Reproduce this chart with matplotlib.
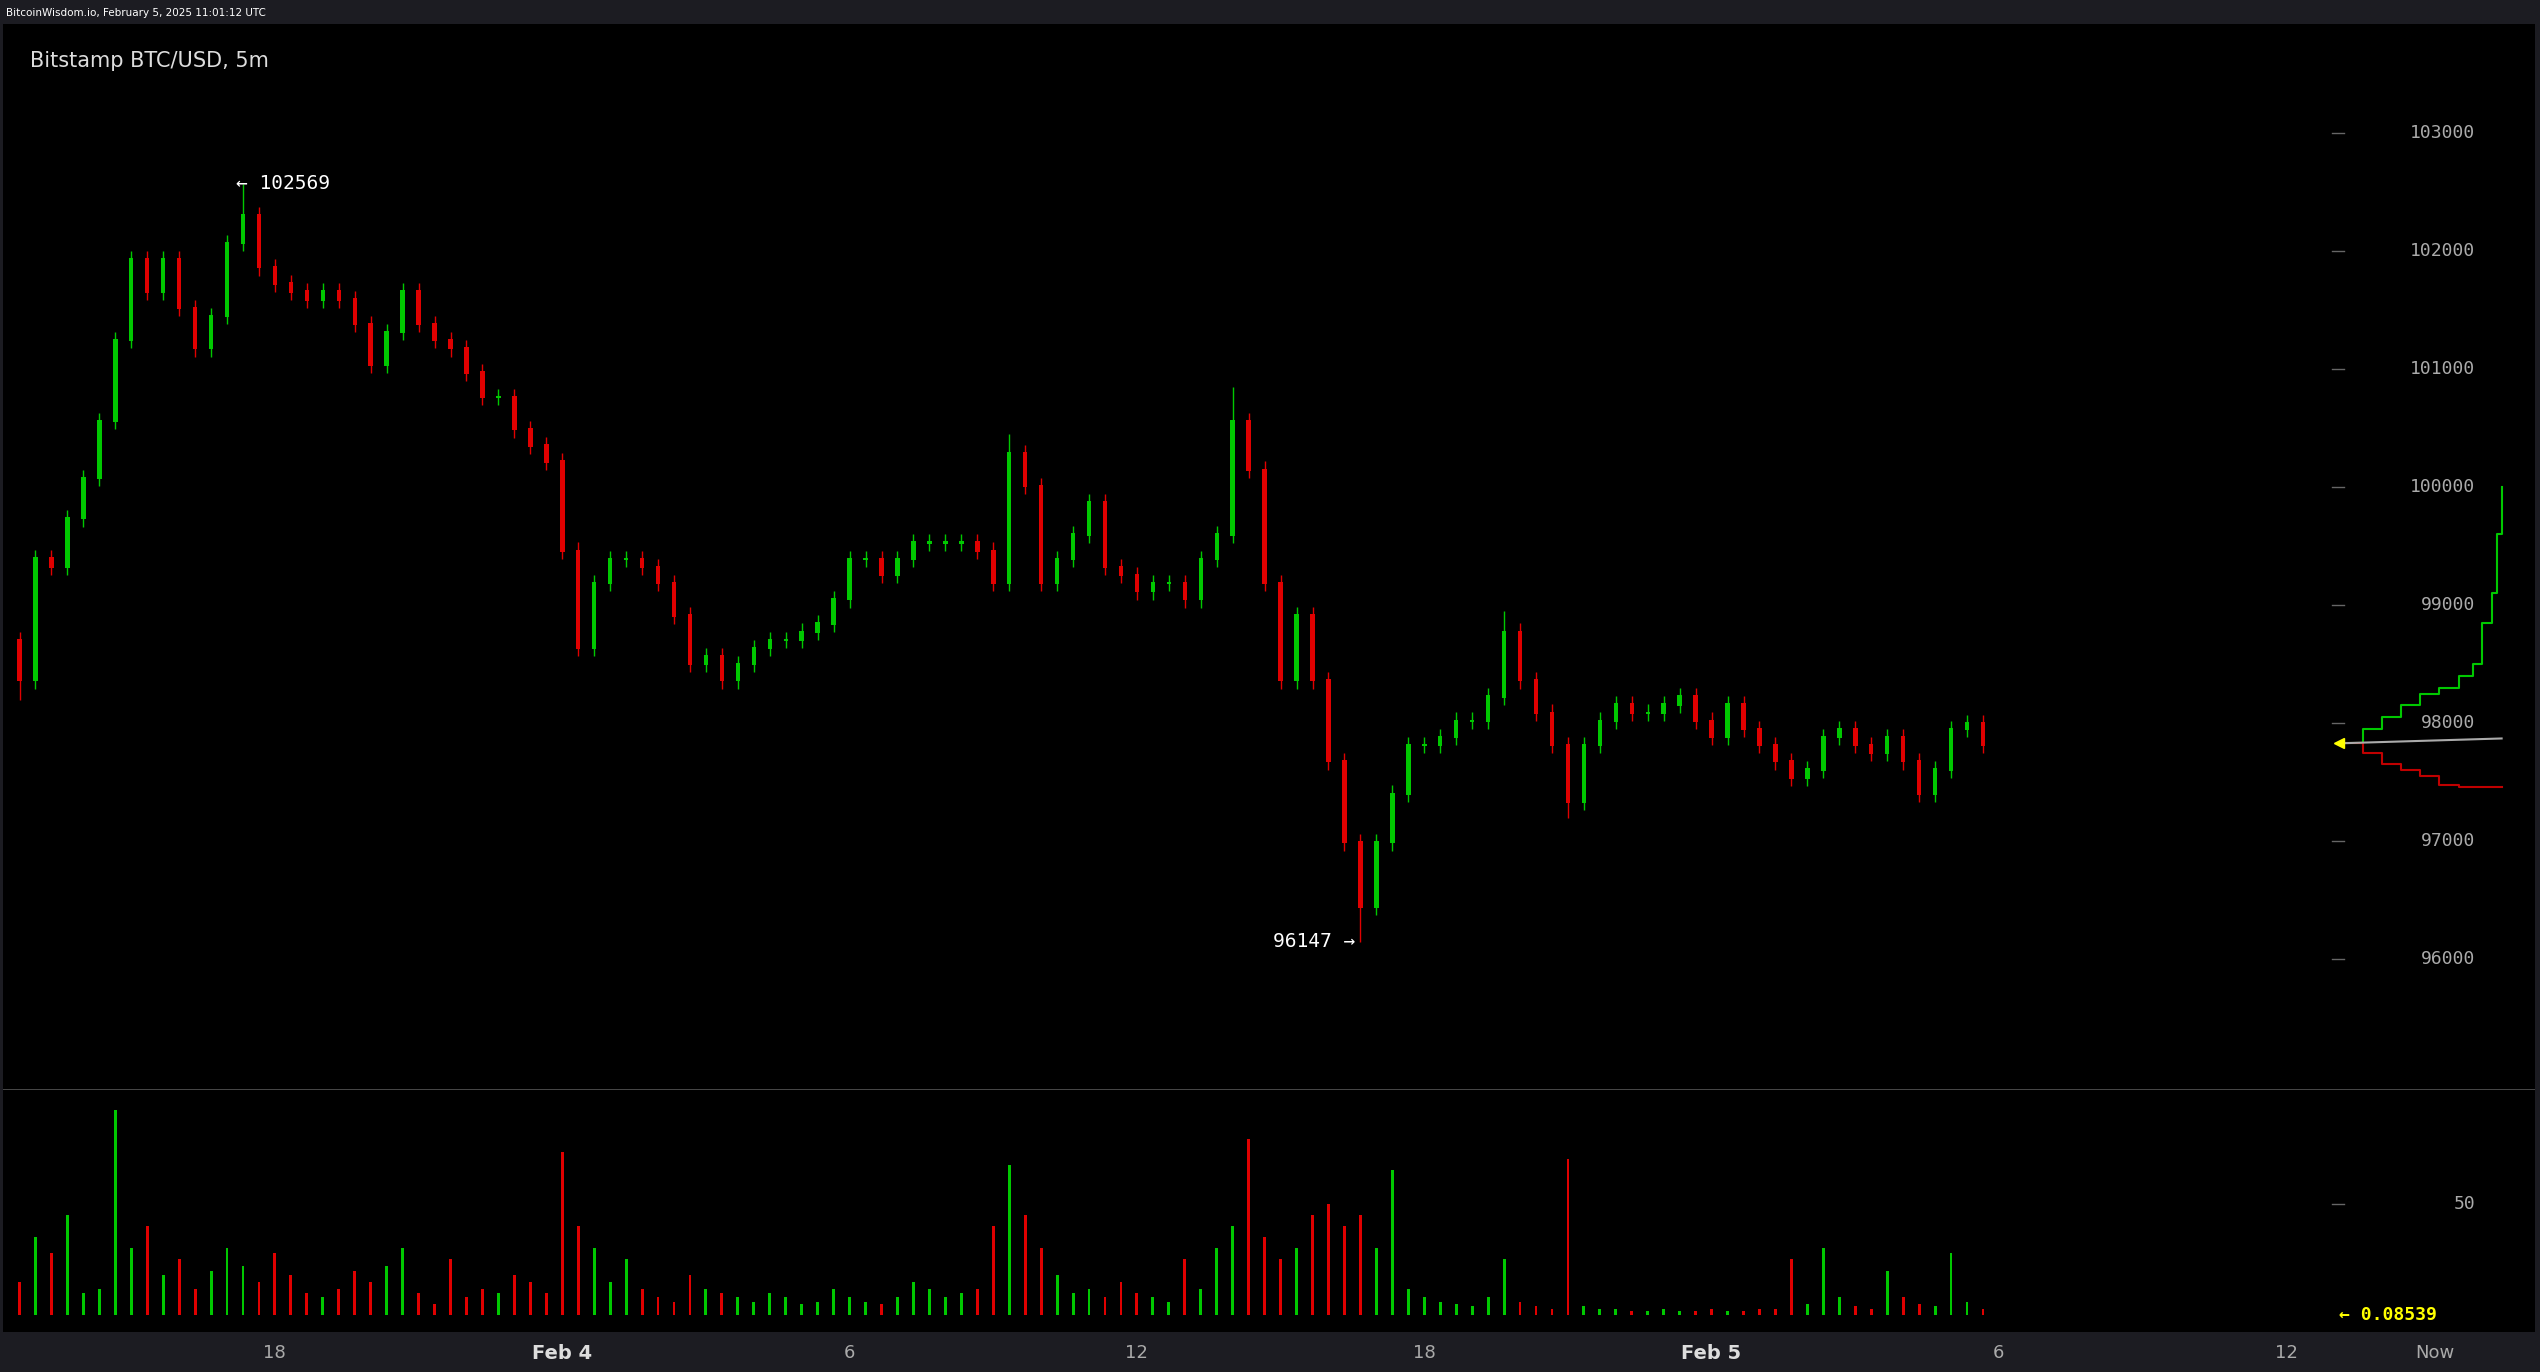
import matplotlib.pyplot as plt
import numpy as np

# candle close prices, one per 20 minutes starting Feb 3 12:40 UTC (hours since Feb 3 00:00)
START_HOUR = 12.67
STEP = 1 / 3
closes = [98363, 99400, 99323, 99735, 100078, 100558, 101244, 101930, 101655, 101930,
          101518, 101175, 101450, 102067, 102300, 101861, 101724, 101655, 101587, 101655,
          101587, 101381, 101038, 101312, 101655, 101381, 101244, 101175, 100969, 100764,
          100764, 100489, 100352, 100215, 99460, 98637, 99186, 99392, 99392, 99323,
          99186, 98911, 98500, 98568, 98363, 98500, 98637, 98706, 98706, 98774,
          98843, 99049, 99392, 99392, 99254, 99392, 99529, 99529, 99529, 99529,
          99460, 99186, 100283, 100009, 99186, 99392, 99597, 99872, 99323, 99254,
          99117, 99186, 99186, 99049, 99392, 99597, 100558, 100146, 99186, 98363,
          98911, 98363, 97677, 96991, 96442, 96991, 97402, 97814, 97814, 97882,
          98020, 98020, 98225, 98774, 98363, 98088, 97814, 97334, 97814, 98020,
          98157, 98088, 98088, 98157, 98225, 98020, 97882, 98157, 97951, 97814,
          97677, 97539, 97608, 97882, 97951, 97814, 97745, 97882, 97677, 97402,
          97608, 97951, 98000, 97814]
first_open = 98700
wick_extremes_high = {14: 102569, 76: 100850, 93: 98950, 62: 100450}
wick_extremes_low = {84: 96147, 97: 97200, 0: 98200}
volumes = [15, 35, 28, 45, 10, 12, 92, 30, 40, 18, 25, 12, 20, 30, 22, 15, 28, 18, 10, 8,
           12, 20, 15, 22, 30, 10, 5, 25, 8, 12, 10, 18, 15, 10, 73, 40, 30, 15, 25, 12,
           8, 6, 18, 12, 10, 8, 6, 10, 8, 5, 6, 12, 8, 6, 5, 8, 15, 12, 8, 10,
           12, 40, 67, 45, 30, 18, 10, 12, 8, 15, 10, 8, 6, 25, 12, 30, 40, 79, 35, 25,
           30, 45, 50, 40, 45, 30, 65, 12, 8, 6, 5, 4, 8, 25, 6, 4, 3, 70, 4, 3,
           3, 2, 2, 3, 2, 2, 3, 2, 2, 3, 3, 25, 5, 30, 8, 4, 3, 20, 8, 5,
           4, 28, 6, 3]

# right-side order book lines (hour, price)
depth_green_x = [61.2, 61.6, 62.0, 62.4, 62.8, 63.2, 63.6, 63.9, 64.1, 64.3, 64.4, 64.5]
depth_green_y = [97830, 97950, 98050, 98150, 98250, 98300, 98400, 98500, 98850, 99100, 99600, 100000]
depth_red_x = [61.2, 61.6, 62.0, 62.4, 62.8, 63.2, 63.6, 64.5]
depth_red_y = [97830, 97750, 97650, 97600, 97550, 97480, 97460, 97460]
depth_gray_x = [61.2, 64.5]
depth_gray_y = [97830, 97870]

price_ticks = [96000, 97000, 98000, 99000, 100000, 101000, 102000, 103000]
xtick_pos = [18, 24, 30, 36, 42, 48, 54, 60, 63.1]
xtick_lab = ["18", "Feb 4", "6", "12", "18", "Feb 5", "6", "12", "Now"]

UP, DOWN = "#00c800", "#e00000"
X0, X1 = 12.33, 65.2

opens = [first_open] + closes[:-1]
times = START_HOUR + STEP * np.arange(len(closes))
highs = [max(o, c) + 70 for o, c in zip(opens, closes)]
lows = [min(o, c) - 70 for o, c in zip(opens, closes)]
for i, v in wick_extremes_high.items():
    highs[i] = v
for i, v in wick_extremes_low.items():
    lows[i] = v
colors = [UP if c >= o else DOWN for o, c in zip(opens, closes)]

fig = plt.figure(figsize=(25.4, 13.72), dpi=100, facecolor="#1c1c22")
W, H = 2540, 1372
sx, sy = 2540 / 1568, 1372 / 847


def px_rect(x0, y0, x1, y1):
    return [x0 * sx / W, 1 - y1 * sy / H, (x1 - x0) * sx / W, (y1 - y0) * sy / H]


ax = fig.add_axes(px_rect(2, 15, 1565, 672), facecolor="black")
axv = fig.add_axes(px_rect(2, 672, 1565, 822), facecolor="black")
for a in (ax, axv):
    a.set_xlim(X0, X1)
    a.set_xticks([])
    a.set_yticks([])
    for s in a.spines.values():
        s.set_visible(False)
ax.set_ylim(94905, 103919)
axv.set_ylim(-7.2, 101.4)
axv.axhline(101.4, color="#555555", lw=1.2)

w = STEP * 0.28
ax.vlines(times, lows, highs, colors=colors, lw=1.0)
ax.bar(times, [abs(c - o) + 20 for o, c in zip(opens, closes)], bottom=[min(o, c) - 10 for o, c in zip(opens, closes)],
       width=w, color=colors)
axv.bar(times, volumes, width=STEP * 0.18, color=colors)

ax.plot(depth_green_x, depth_green_y, color="#00c800", lw=1.5, drawstyle="steps-post")
ax.plot(depth_red_x, depth_red_y, color="#c00000", lw=1.5, drawstyle="steps-post")
ax.plot(depth_gray_x, depth_gray_y, color="#aaaaaa", lw=1.5)
ax.plot([61.1], [97830], marker="<", color="yellow", ms=7)

for p in price_ticks:
    ax.text(63.95, p, str(p), color="#aaaaaa", fontsize=13, ha="right", va="center", family="DejaVu Sans Mono")
    ax.plot([60.95, 61.2], [p, p], color="#666666", lw=1)
axv.text(63.95, 50, "50", color="#aaaaaa", fontsize=13, ha="right", va="center", family="DejaVu Sans Mono")
axv.plot([60.95, 61.2], [50, 50], color="#666666", lw=1)
axv.text(61.1, 0, "← 0.08539", color="yellow", fontsize=13, ha="left", va="center",
         family="DejaVu Sans Mono", fontweight="bold")

ax.text(times[14] - 0.15, 102569, "← 102569", color="white", fontsize=14, ha="left", va="center",
        family="DejaVu Sans Mono")
ax.text(times[84] - 0.1, 96147, "96147 →", color="white", fontsize=14, ha="right", va="center",
        family="DejaVu Sans Mono")
ax.text(0.0105, 0.975, "Bitstamp BTC/USD, 5m", transform=ax.transAxes, color="#dddddd", fontsize=15,
        ha="left", va="top")

for xp, lab in zip(xtick_pos, xtick_lab):
    bold = lab.startswith("Feb")
    axv.text(xp, -0.05, lab, transform=axv.get_xaxis_transform(), color="#dddddd" if bold else "#aaaaaa",
             fontsize=14 if bold else 13, fontweight="bold" if bold else "normal", ha="center", va="top")

fig.text(4 * sx / W, 1 - 8 * sy / H, "BitcoinWisdom.io, February 5, 2025 11:01:12 UTC", color="white",
         fontsize=7.5, ha="left", va="center")

fig.savefig("out.png", facecolor=fig.get_facecolor())
